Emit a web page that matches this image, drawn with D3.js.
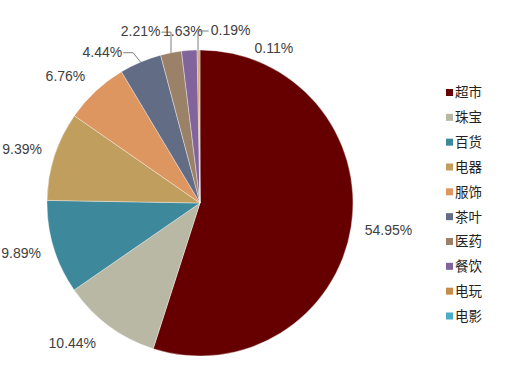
<!DOCTYPE html>
<html>
<head>
<meta charset="utf-8">
<script src="https://cdn.jsdelivr.net/npm/d3@7/dist/d3.min.js"></script>
<style>
  html, body { margin: 0; padding: 0; background: #fff; }
  svg { display: block; }
</style>
</head>
<body>
<svg id="chart" width="528" height="390"></svg>
<script>
// ---- data ----
const categories = ["超市", "珠宝", "百货", "电器", "服饰", "茶叶", "医药", "餐饮", "电玩", "电影"];
const shares = [54.95, 10.44, 9.89, 9.39, 6.76, 4.44, 2.21, 1.63, 0.19, 0.11];
const valueLabels = ["54.95%", "10.44%", "9.89%", "9.39%", "6.76%", "4.44%", "2.21%", "1.63%", "0.19%", "0.11%"];
const colors = ["#660000", "#B9B8A5", "#3D889B", "#BF9E5E", "#DE9660", "#636C85", "#9C8169", "#80649B", "#C58C4C", "#4BACC6"];

// ---- layout ----
const svg = d3.select("#chart");
const cx = 200, cy = 203, R = 153;
const gap = 14;

const data = categories.map((c, i) => ({ name: c, value: shares[i], label: valueLabels[i], color: colors[i] }));

const pie = d3.pie().sort(null).value(d => d.value).startAngle(0).endAngle(2 * Math.PI);
const arcs = pie(data);
const arc = d3.arc().innerRadius(0).outerRadius(R);

const g = svg.append("g").attr("transform", `translate(${cx},${cy})`);

g.selectAll("path.slice")
  .data(arcs)
  .enter().append("path")
  .attr("class", "slice")
  .attr("d", arc)
  .attr("fill", d => d.data.color)
  .attr("stroke", "#ffffff")
  .attr("stroke-opacity", 0.6)
  .attr("stroke-width", 0.6);

// label placement (Excel-like outside end; crowded labels moved)
const mid = d => (d.startAngle + d.endAngle) / 2;
const polar = (a, r) => [r * Math.sin(a), -r * Math.cos(a)];
const nudge = {
  "珠宝": { dx: -14, dy: 0 },
  "服饰": { dx: -7, dy: 0 },
  "茶叶": { dx: -25, dy: 9, leader: "right" },
  "医药": { dx: -24, dy: -1, leader: "rightElbow" },
  "餐饮": { dx: -4, dy: 1.5 },
  "电玩": { dx: 33, dy: 1, leader: "leftElbow" },
  "电影": { dx: 74.5, dy: 19 }
};

const fontSize = 14;
const boxH = 14;
arcs.forEach(d => {
  const a = mid(d);
  const t = g.append("text")
    .attr("text-anchor", "middle")
    .attr("dy", "0.35em")
    .attr("font-family", "'Liberation Sans', Arial, sans-serif")
    .attr("font-size", fontSize)
    .attr("fill", "#404040")
    .text(d.data.label);
  const w = t.node().getComputedTextLength();
  let [x, y] = polar(a, R + gap);
  x += (w / 2) * Math.sin(a);
  y += -(boxH / 2) * Math.cos(a);
  const n = nudge[d.data.name];
  if (n) { x += n.dx; y += n.dy; }
  t.attr("x", x).attr("y", y);
  if (n && n.leader) {
    const [ox, oy] = polar(a, R);
    let pts;
    const ly = y + 1;
    if (n.leader === "right") {
      const sx = x + w / 2 + 1;
      pts = [[sx, ly], [sx + 10, ly], [ox, oy]];
    } else if (n.leader === "rightElbow") {
      const sx = x + w / 2 + 1;
      pts = [[sx, ly], [ox, ly], [ox, oy]];
    } else {
      const sx = x - w / 2 - 2;
      pts = [[sx, ly], [ox, ly], [ox, oy]];
    }
    g.append("path")
      .attr("d", d3.line()(pts))
      .attr("fill", "none")
      .attr("stroke", "#7f7f7f")
      .attr("stroke-width", 1);
  }
});

// ---- legend ----
const legendY = d3.scalePoint().domain(categories).range([92.5, 316]);
const lg = svg.append("g");
const items = lg.selectAll("g.item").data(data).enter().append("g")
  .attr("class", "item")
  .attr("transform", d => `translate(446,${legendY(d.name)})`);
items.append("rect")
  .attr("x", 0).attr("y", -3.5)
  .attr("width", 7).attr("height", 7)
  .attr("fill", d => d.color);
items.append("text")
  .attr("x", 9).attr("y", 0).attr("dy", "0.36em")
  .attr("font-family", "'Noto Sans CJK SC', sans-serif")
  .attr("font-size", 13.5)
  .attr("fill", "#222")
  .text(d => d.name);
</script>
</body>
</html>
